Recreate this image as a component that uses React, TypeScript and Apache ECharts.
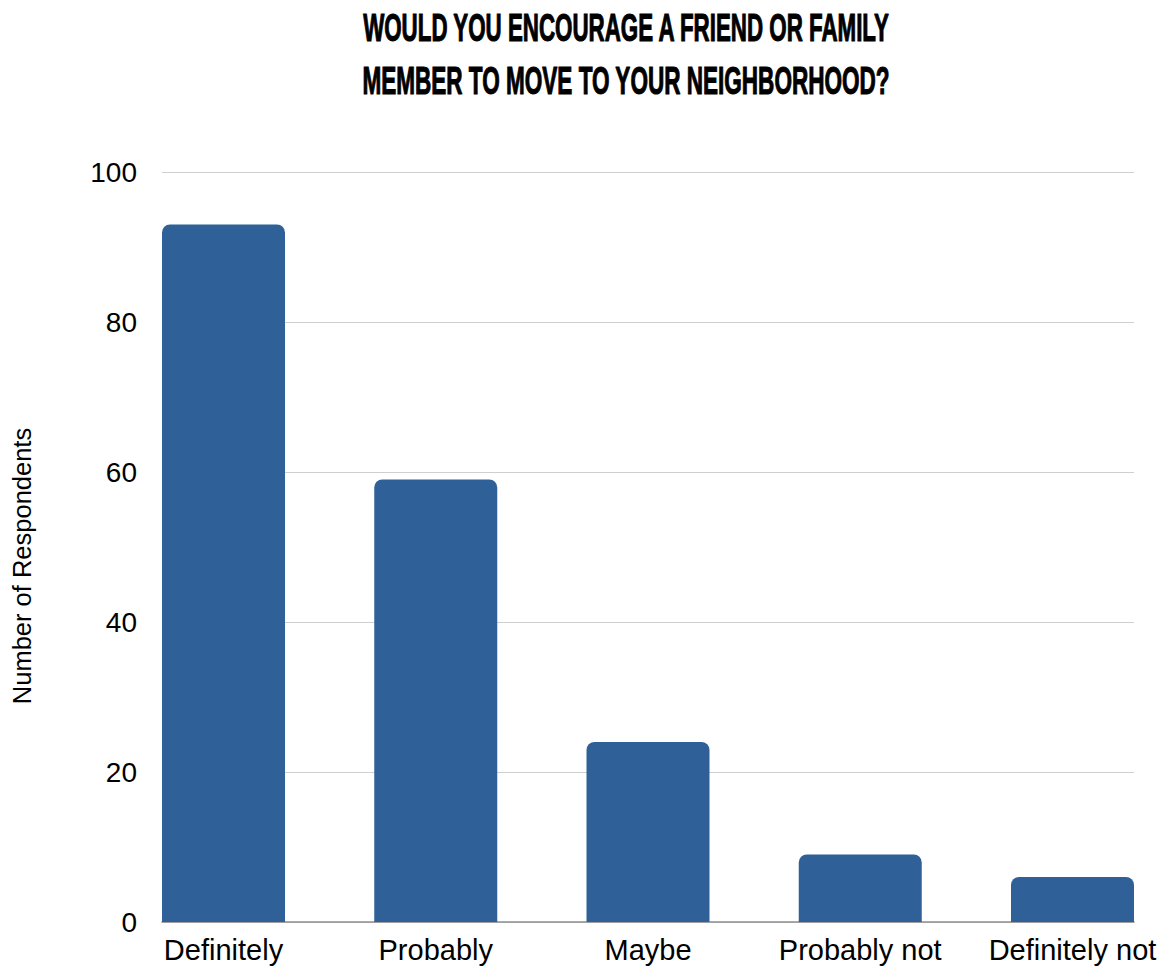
import React, { useEffect, useRef } from "react";
import * as echarts from "echarts";

const titleLines = [
  "WOULD YOU ENCOURAGE A FRIEND OR FAMILY",
  "MEMBER TO MOVE TO YOUR NEIGHBORHOOD?",
];
const categories = ["Definitely", "Probably", "Maybe", "Probably not", "Definitely not"];
const respondents = [93, 59, 24, 9, 6];
const yTicks = { min: 0, max: 100, interval: 20 };
const yAxisName = "Number of Respondents";

const FONT = "'Liberation Sans', Arial, Helvetica, sans-serif";
const TITLE_FONT_SIZE = 39;
const TITLE_WIDTH = 528;

function measure(text: string, font: string): number {
  const c = document.createElement("canvas");
  const ctx = c.getContext("2d");
  if (!ctx) return text.length * 20;
  ctx.font = font;
  return ctx.measureText(text).width;
}

export default function App() {
  const ref = useRef<HTMLDivElement>(null);
  useEffect(() => {
    if (!ref.current) return;
    const chart = echarts.init(ref.current, undefined, { renderer: "svg" });
    const titleFont = `bold ${TITLE_FONT_SIZE}px 'Liberation Sans'`;
    const titleGraphics: any[] = titleLines.map((line, i) => {
      const w = measure(line, titleFont);
      const sx = TITLE_WIDTH / w;
      return {
        type: "text",
        x: 626,
        y: 28 + i * 53,
        scaleX: sx,
        style: {
          text: line,
          fontFamily: FONT,
          fontWeight: "bold",
          fontSize: TITLE_FONT_SIZE,
          fill: "#000",
          stroke: "#000",
          lineWidth: 1.1,
          align: "center",
          verticalAlign: "middle",
        },
      };
    });
    titleGraphics.push({
      type: "text",
      x: 22,
      y: 566,
      rotation: Math.PI / 2,
      style: {
        text: yAxisName,
        fontFamily: FONT,
        fontSize: 25.5,
        fill: "#000",
        align: "center",
        verticalAlign: "middle",
      },
    });
    chart.setOption({
      animation: false,
      backgroundColor: "#ffffff",
      textStyle: { fontFamily: FONT },
      graphic: titleGraphics,
      grid: [
        { left: 162, right: 32, top: 172, bottom: 49, outerBoundsMode: "none", containLabel: false },
        { left: 223.5, right: 93.5, top: 172, bottom: 49, outerBoundsMode: "none", containLabel: false },
      ],
      xAxis: [
        {
          gridIndex: 0,
          type: "value",
          min: 0,
          max: 1,
          axisLabel: { show: false },
          axisTick: { show: false },
          splitLine: { show: false },
          axisLine: { show: true, lineStyle: { color: "#8f8f8f", width: 1.5 } },
        },
        {
          gridIndex: 1,
          type: "category",
          data: categories,
          boundaryGap: false,
          axisLine: { show: false },
          axisTick: { show: false },
          axisLabel: {
            fontSize: 29,
            color: "#000",
            margin: 13,
            fontFamily: FONT,
            interval: 0,
          },
        },
      ],
      yAxis: [
        {
          gridIndex: 0,
          type: "value",
          min: yTicks.min,
          max: yTicks.max,
          interval: yTicks.interval,
          axisLine: { show: false },
          axisTick: { show: false },
          axisLabel: { fontSize: 28, color: "#000", margin: 25, fontFamily: FONT },
          splitLine: { show: true, lineStyle: { color: "#cfcfcf", width: 1 } },
        },
        {
          gridIndex: 1,
          type: "value",
          min: yTicks.min,
          max: yTicks.max,
          show: false,
          splitLine: { show: false },
        },
      ],
      series: [
        {
          type: "bar",
          xAxisIndex: 1,
          yAxisIndex: 1,
          data: respondents,
          barWidth: 123,
          itemStyle: { color: "#2f6097", borderRadius: [8, 8, 0, 0] },
        },
      ],
    });
    return () => chart.dispose();
  }, []);
  return (
    <div
      ref={ref}
      style={{ position: "fixed", left: 0, top: 0, width: 1166, height: 971 }}
    />
  );
}
